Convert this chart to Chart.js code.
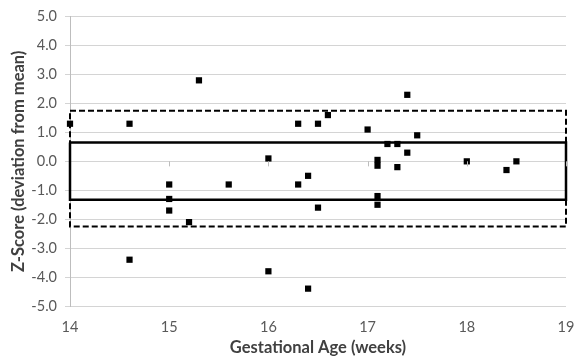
<!DOCTYPE html>
<html>
<head>
<meta charset="utf-8">
<script src="https://cdn.jsdelivr.net/npm/chart.js@4"></script>
<style>
  html, body { margin: 0; padding: 0; background: #fff; }
  #wrap { width: 574px; height: 358px; }
</style>
</head>
<body>
<div id="wrap"><canvas id="zscore-chart"></canvas></div>
<script>
// Gestational age (weeks) and z-score for each sample
const ages = [
  14.0, 14.6, 14.6, 15.0, 15.0, 15.0, 15.2, 15.3, 15.6, 16.0, 16.0,
  16.3, 16.3, 16.4, 16.4, 16.5, 16.5, 16.6, 17.0, 17.1, 17.1, 17.1,
  17.1, 17.2, 17.3, 17.3, 17.4, 17.4, 17.5, 18.0, 18.4, 18.5
];
const zScores = [
  1.3, 1.3, -3.4, -0.8, -1.3, -1.7, -2.1, 2.8, -0.8, 0.1, -3.8,
  1.3, -0.8, -0.5, -4.4, 1.3, -1.6, 1.6, 1.1, 0.05, -0.15, -1.2,
  -1.5, 0.6, 0.6, -0.2, 2.3, 0.3, 0.9, 0.0, -0.3, 0.0
];

// Reference bands (upper / lower limits)
const bandX = [14, 19];
const innerBand = [0.65, -1.33];
const outerBand = [1.75, -2.25];

const xTicks = [14, 15, 16, 17, 18, 19];

document.addEventListener("DOMContentLoaded", () => {
  const ctx = document.getElementById("zscore-chart").getContext("2d");
  const gridColor = "#d4d4d4";
  const textColor = "#595959";

  // closed rectangle through the corners of a band
  function boxPath(band) {
    const [x0, x1] = bandX;
    const [top, bottom] = band;
    return [
      { x: x0, y: top },
      { x: x1, y: top },
      { x: x1, y: bottom },
      { x: x0, y: bottom },
      { x: x0, y: top },
    ];
  }

  // Excel style: x tick marks sit on the zero line
  const zeroTicks = {
    id: "zeroTicks",
    afterDraw(chart) {
      const { x, y } = chart.scales;
      const y0 = y.getPixelForValue(0);
      const c = chart.ctx;
      c.save();
      c.strokeStyle = "#bdbdbd";
      c.lineWidth = 1;
      xTicks.slice(1).forEach((t) => {
        const px = Math.round(x.getPixelForValue(t)) + 0.5;
        c.beginPath();
        c.moveTo(px, y0);
        c.lineTo(px, y0 + 5);
        c.stroke();
      });
      c.restore();
    },
  };

  new Chart(ctx, {
    type: "scatter",
    data: {
      datasets: [
        {
          label: "Samples",
          data: ages.map((a, i) => ({ x: a, y: zScores[i] })),
          pointStyle: "rect",
          pointRadius: 4.4,
          backgroundColor: "#000",
          borderWidth: 0,
          clip: false,
          order: 0,
        },
        {
          label: "Inner",
          data: boxPath(innerBand),
          showLine: true,
          borderColor: "#000",
          borderWidth: 2.5,
          pointRadius: 0,
          fill: false,
          clip: false,
          order: 1,
        },
        {
          label: "Outer",
          data: boxPath(outerBand),
          showLine: true,
          borderColor: "#000",
          borderWidth: 2,
          borderDash: [6, 3],
          pointRadius: 0,
          fill: false,
          clip: false,
          order: 2,
        },
      ],
    },
    options: {
      responsive: true,
      maintainAspectRatio: false,
      animation: false,
      layout: { padding: { top: 14, right: 8, bottom: 0, left: 0 } },
      plugins: {
        legend: { display: false },
        tooltip: { enabled: false },
      },
      scales: {
        x: {
          type: "linear",
          min: 14,
          max: 19,
          afterBuildTicks: (scale) => {
            scale.ticks = xTicks.map((v) => ({ value: v }));
          },
          afterFit: (scale) => {
            scale.height = 52;
            scale.paddingLeft = 0;
            scale.paddingRight = 0;
          },
          grid: { display: false, drawTicks: false },
          border: { display: false },
          ticks: {
            color: textColor,
            padding: 13,
            font: { family: "Lato", size: 14.5 },
          },
          title: {
            display: true,
            text: "Gestational Age (weeks)",
            color: "#404040",
            padding: { top: 0, bottom: 0 },
            font: { family: "Lato", size: 16.5, weight: "bold" },
          },
        },
        y: {
          min: -5,
          max: 5,
          afterFit: (scale) => {
            scale.width = 70;
          },
          grid: { color: gridColor, tickLength: 5 },
          border: { color: "#bdbdbd" },
          ticks: {
            stepSize: 1,
            color: textColor,
            padding: 8,
            font: { family: "Lato", size: 14.5 },
            callback: (v) => v.toFixed(1),
          },
          title: {
            display: true,
            text: "Z-Score (deviation from mean)",
            color: "#404040",
            padding: { top: 9, bottom: 0 },
            font: { family: "Lato", size: 16.5, weight: "bold" },
          },
        },
      },
    },
    plugins: [zeroTicks],
  });
});
</script>
</body>
</html>
